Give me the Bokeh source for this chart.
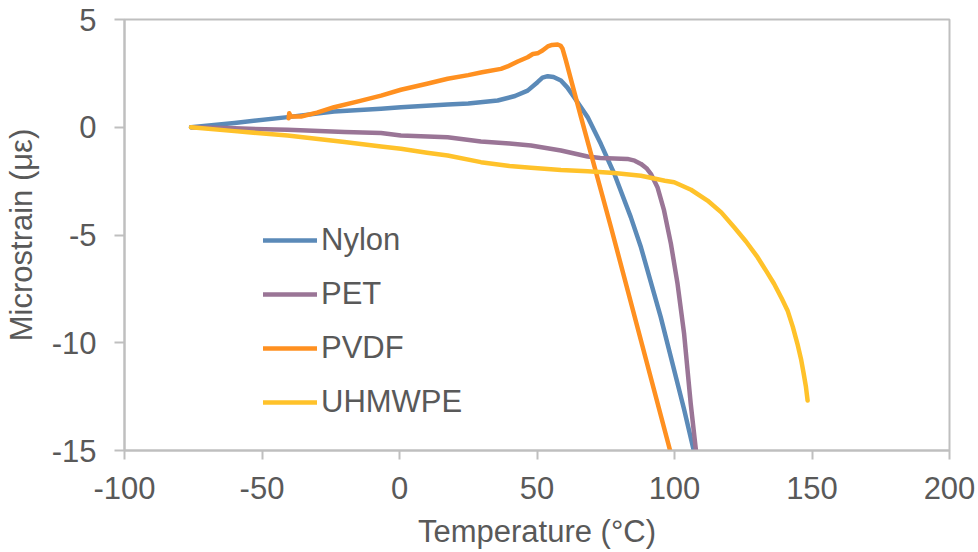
from bokeh.plotting import figure
from bokeh.models import Range1d, FixedTicker, Legend, LegendItem, CustomJSTickFormatter
from bokeh.embed import file_html
from bokeh.resources import INLINE

# Temperature (°C) / microstrain readings for each polymer
nylon_t = [-75.8, -60, -40.7, -23.8, -6.7, 0.5, 17.5, 25, 35.7, 42, 46.6, 50.2, 52, 53.9,
           56, 58.7, 61, 63.5, 68.4, 71, 73.2, 78.1, 84.1, 87.8, 95, 103.5, 107]
nylon_s = [0.0, 0.2, 0.47, 0.73, 0.86, 0.93, 1.06, 1.1, 1.24, 1.45, 1.7, 2.09, 2.3, 2.37,
           2.33, 2.17, 1.85, 1.39, 0.47, -0.2, -0.77, -2.16, -4.17, -5.57, -8.81, -13.1, -15.0]

pet_t = [-75.8, -60, -40.7, -20, -6.7, 0.5, 17.5, 29.6, 40, 47.8, 58.7, 68.4, 73, 78.1,
         82.9, 85.5, 87.8, 89.8, 91.4, 93.8, 96.2, 98.7, 101.1, 103.5, 105.9, 107.8]
pet_s = [0.0, -0.05, -0.12, -0.22, -0.27, -0.38, -0.46, -0.66, -0.75, -0.85, -1.08, -1.36,
         -1.43, -1.45, -1.47, -1.55, -1.7, -1.9, -2.16, -2.78, -3.86, -5.41, -7.26, -9.59,
         -12.83, -15.0]

pvdf_t = [-40.3, -40.1, -39.5, -35.8, -30, -23.8, -15, -6.7, 0.5, 10, 17.5, 25, 30, 36.9,
          39.3, 43, 46.6, 48.5, 50.2, 52, 53.9, 55.5, 57.5, 58.6, 59.3, 60.5, 66, 76.9, 98.4]
pvdf_s = [0.42, 0.65, 0.5, 0.5, 0.68, 0.93, 1.2, 1.47, 1.74, 2.02, 2.25, 2.42, 2.55, 2.71,
          2.82, 3.05, 3.25, 3.4, 3.43, 3.56, 3.75, 3.82, 3.84, 3.78, 3.64, 3.1, 0.47, -4.64, -15.0]

uhmwpe_t = [-75.8, -60, -40.7, -20, -6.7, 0.5, 10, 17.5, 29.6, 40, 47.8, 58.7, 68.4, 78.1,
            87.8, 92.6, 96.5, 99.9, 106, 112, 117, 121.7, 126, 130.2, 133.5, 136.2, 139,
            141.1, 143, 144.7, 146, 147, 147.8, 148.4]
uhmwpe_s = [0.0, -0.18, -0.38, -0.68, -0.89, -1.0, -1.18, -1.31, -1.62, -1.8, -1.88, -1.98,
            -2.04, -2.12, -2.25, -2.38, -2.48, -2.55, -2.9, -3.4, -3.95, -4.64, -5.3, -6.03,
            -6.7, -7.26, -7.95, -8.5, -9.25, -10.05, -10.75, -11.45, -12.05, -12.68]

x_ticks = [-100, -50, 0, 50, 100, 150, 200]
y_ticks = [-15, -10, -5, 0, 5]

FONT = "Liberation Sans"
TEXT = "#595959"
GRID = "#BFBFBF"

p = figure(width=978, height=552, output_backend="svg", toolbar_location=None,
           x_range=Range1d(-100, 200), y_range=Range1d(-15, 5),
           min_border_left=124, min_border_right=29, min_border_top=19, min_border_bottom=102)

p.xgrid.visible = False
p.ygrid.visible = False
p.outline_line_color = GRID
p.outline_line_width = 2
p.background_fill_color = "white"
p.border_fill_color = "white"

# plain hyphen-minus tick labels
plain = CustomJSTickFormatter(code="return tick.toFixed(0);")

for ax, ticks in ((p.xaxis[0], x_ticks), (p.yaxis[0], y_ticks)):
    ax.ticker = FixedTicker(ticks=ticks)
    ax.formatter = plain
    ax.axis_line_color = GRID
    ax.axis_line_width = 2
    ax.major_tick_line_color = GRID
    ax.major_tick_line_width = 2
    ax.major_tick_out = 9
    ax.major_tick_in = 0
    ax.minor_tick_line_color = None
    ax.major_label_text_font = FONT
    ax.major_label_text_font_size = "31px"
    ax.major_label_text_color = TEXT
    ax.axis_label_text_font = FONT
    ax.axis_label_text_font_size = "31px"
    ax.axis_label_text_font_style = "normal"
    ax.axis_label_text_color = TEXT

p.xaxis.axis_label = "Temperature (°C)"
p.yaxis.axis_label = "Microstrain (με)"
p.xaxis.major_label_standoff = 17
p.xaxis.axis_label_standoff = 12
p.yaxis.major_label_standoff = 18
p.yaxis.axis_label_standoff = 10
p.yaxis.major_tick_out = 10

series = [
    ("Nylon", nylon_t, nylon_s, "#5B8AB8"),
    ("PET", pet_t, pet_s, "#9A7596"),
    ("PVDF", pvdf_t, pvdf_s, "#FF9020"),
    ("UHMWPE", uhmwpe_t, uhmwpe_s, "#FFC22A"),
]

items = []
for name, t, s, color in series:
    r = p.line(t, s, line_color=color, line_width=4.5, line_join="round", line_cap="round")
    items.append(LegendItem(label=name, renderers=[r]))

legend = Legend(items=items, location=(139, 28), orientation="vertical",
                padding=0, margin=0, spacing=14,
                glyph_width=54, glyph_height=40, label_height=40, label_standoff=4,
                label_text_font=FONT, label_text_font_size="31px",
                label_text_color=TEXT, label_text_baseline="middle",
                border_line_alpha=0, background_fill_alpha=0)
p.add_layout(legend, "center")

open("out.html", "w").write(file_html(p, INLINE))
